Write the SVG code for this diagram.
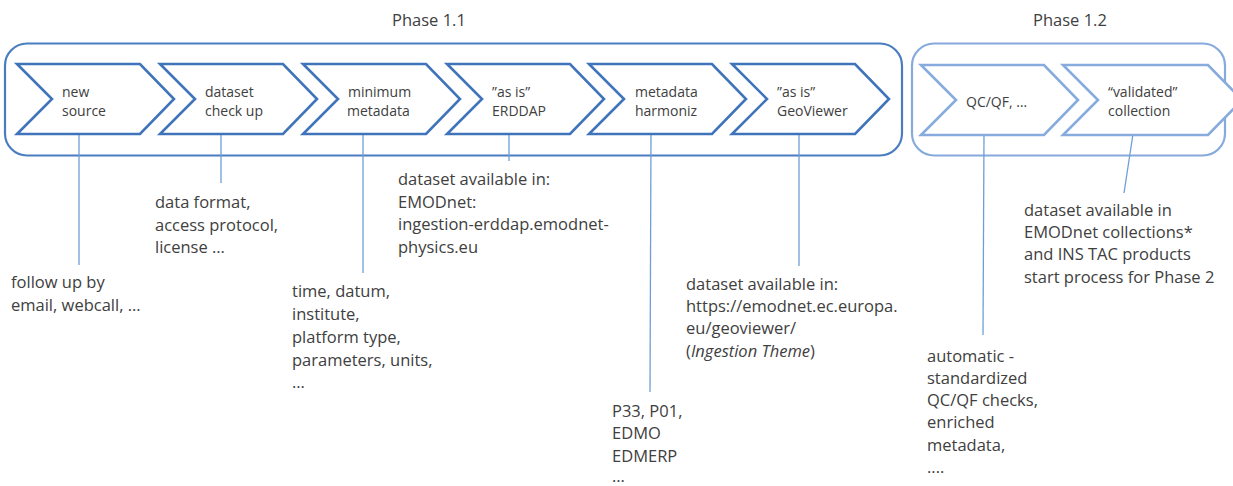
<svg xmlns="http://www.w3.org/2000/svg" width="1233" height="486" viewBox="0 0 1233 486">
<style>
  .frame1 { fill: none; stroke: #4a7dc0; stroke-width: 2.2; }
  .frame2 { fill: none; stroke: #85aadb; stroke-width: 2.2; }
  .chev1 { fill: #ffffff; stroke: #3f74ba; stroke-width: 2.6; stroke-linejoin: miter; }
  .chev2 { fill: #ffffff; stroke: #86abdc; stroke-width: 2.6; stroke-linejoin: miter; }
  .lbl { font-family: "Open Sans", "Liberation Sans", sans-serif; font-size: 14px; fill: #404040; }
  .ann { font-family: "Open Sans", "Liberation Sans", sans-serif; font-size: 16.5px; fill: #404040; }
  .phase { font-family: "Open Sans", "Liberation Sans", sans-serif; font-size: 16.5px; fill: #404040; }
  .conn { stroke: #6f9ed6; stroke-width: 1.3; fill: none; }
</style>
<defs>
  <path id="chev" d="M0,0 L123,0 L157,35 L123,70 L0,70 L35,35 Z"/>
  <path id="chev-wide" d="M0,0 L145,0 L179,35 L145,70 L0,70 L35,35 Z"/>
</defs>
<rect width="1233" height="486" fill="#ffffff"/>

<g id="phase-1-1">
  <rect class="frame1" x="5" y="43.5" width="897" height="112" rx="22" ry="22"/>
  <text class="phase" x="392" y="26">Phase 1.1</text>
</g>
<g id="phase-1-2">
  <rect class="frame2" x="912" y="43.5" width="313" height="112" rx="22" ry="22"/>
  <text class="phase" x="1033" y="26">Phase 1.2</text>
</g>

<g id="connectors">
  <line class="conn" x1="79" y1="134" x2="79" y2="265"/>
  <line class="conn" x1="221" y1="134" x2="221" y2="183"/>
  <line class="conn" x1="363" y1="134" x2="363" y2="273"/>
  <line class="conn" x1="509" y1="134" x2="509" y2="161"/>
  <line class="conn" x1="651" y1="134" x2="650" y2="392"/>
  <line class="conn" x1="799" y1="134" x2="799" y2="266"/>
  <line class="conn" x1="984" y1="134" x2="983" y2="335"/>
  <line class="conn" x1="1133" y1="134" x2="1124" y2="193"/>
</g>

<g id="node-new-source">
  <use href="#chev" class="chev1" transform="translate(17,64)"/>
  <text class="lbl" x="62" y="97">new</text>
  <text class="lbl" x="62" y="116">source</text>
</g>
<g id="node-dataset-check-up">
  <use href="#chev" class="chev1" transform="translate(160,64)"/>
  <text class="lbl" x="205" y="97">dataset</text>
  <text class="lbl" x="205" y="116">check up</text>
</g>
<g id="node-minimum-metadata">
  <use href="#chev" class="chev1" transform="translate(303,64)"/>
  <text class="lbl" x="348" y="97">minimum</text>
  <text class="lbl" x="347" y="116">metadata</text>
</g>
<g id="node-as-is-erddap">
  <use href="#chev" class="chev1" transform="translate(447,64)"/>
  <text class="lbl" x="492" y="97">”as is”</text>
  <text class="lbl" x="492" y="116">ERDDAP</text>
</g>
<g id="node-metadata-harmoniz">
  <use href="#chev" class="chev1" transform="translate(589,64)"/>
  <text class="lbl" x="635" y="97">metadata</text>
  <text class="lbl" x="635" y="116">harmoniz</text>
</g>
<g id="node-as-is-geoviewer">
  <use href="#chev" class="chev1" transform="translate(732,64)"/>
  <text class="lbl" x="777" y="97">”as is”</text>
  <text class="lbl" x="777" y="116">GeoViewer</text>
</g>
<g id="node-qc-qf">
  <use href="#chev" class="chev2" transform="translate(921,65)"/>
  <text class="lbl" x="966" y="107">QC/QF, …</text>
</g>
<g id="node-validated-collection">
  <use href="#chev-wide" class="chev2" transform="translate(1063,65)"/>
  <text class="lbl" x="1108" y="97">“validated”</text>
  <text class="lbl" x="1108" y="116">collection</text>
</g>

<g id="annotations">
  <text class="ann" x="11" y="288">follow up by</text>
  <text class="ann" x="11" y="311">email, webcall, …</text>

  <text class="ann" x="155" y="208">data format,</text>
  <text class="ann" x="155" y="231">access protocol,</text>
  <text class="ann" x="155" y="253">license …</text>

  <text class="ann" x="292" y="297">time, datum,</text>
  <text class="ann" x="292" y="320">institute,</text>
  <text class="ann" x="292" y="343">platform type,</text>
  <text class="ann" x="292" y="366">parameters, units,</text>
  <text class="ann" x="292" y="388">…</text>

  <text class="ann" x="398" y="185">dataset available in:</text>
  <text class="ann" x="398" y="207.5">EMODnet:</text>
  <text class="ann" x="398" y="230">ingestion-erddap.emodnet-</text>
  <text class="ann" x="398" y="252.5">physics.eu</text>

  <text class="ann" x="686" y="290">dataset available in:</text>
  <text class="ann" x="686" y="312">https://emodnet.ec.europa.</text>
  <text class="ann" x="686" y="334">eu/geoviewer/</text>
  <text class="ann" x="686" y="357">(<tspan font-style="italic">Ingestion Theme</tspan>)</text>

  <text class="ann" x="612" y="417">P33, P01,</text>
  <text class="ann" x="612" y="439">EDMO</text>
  <text class="ann" x="612" y="462">EDMERP</text>
  <text class="ann" x="612" y="482">…</text>

  <text class="ann" x="1024" y="216">dataset available in</text>
  <text class="ann" x="1024" y="238">EMODnet collections*</text>
  <text class="ann" x="1024" y="260">and INS TAC products</text>
  <text class="ann" x="1024" y="283">start process for Phase 2</text>

  <text class="ann" x="927" y="362">automatic -</text>
  <text class="ann" x="927" y="384">standardized</text>
  <text class="ann" x="927" y="406">QC/QF checks,</text>
  <text class="ann" x="927" y="428">enriched</text>
  <text class="ann" x="927" y="451">metadata,</text>
  <text class="ann" x="927" y="473">....</text>
</g>
</svg>
